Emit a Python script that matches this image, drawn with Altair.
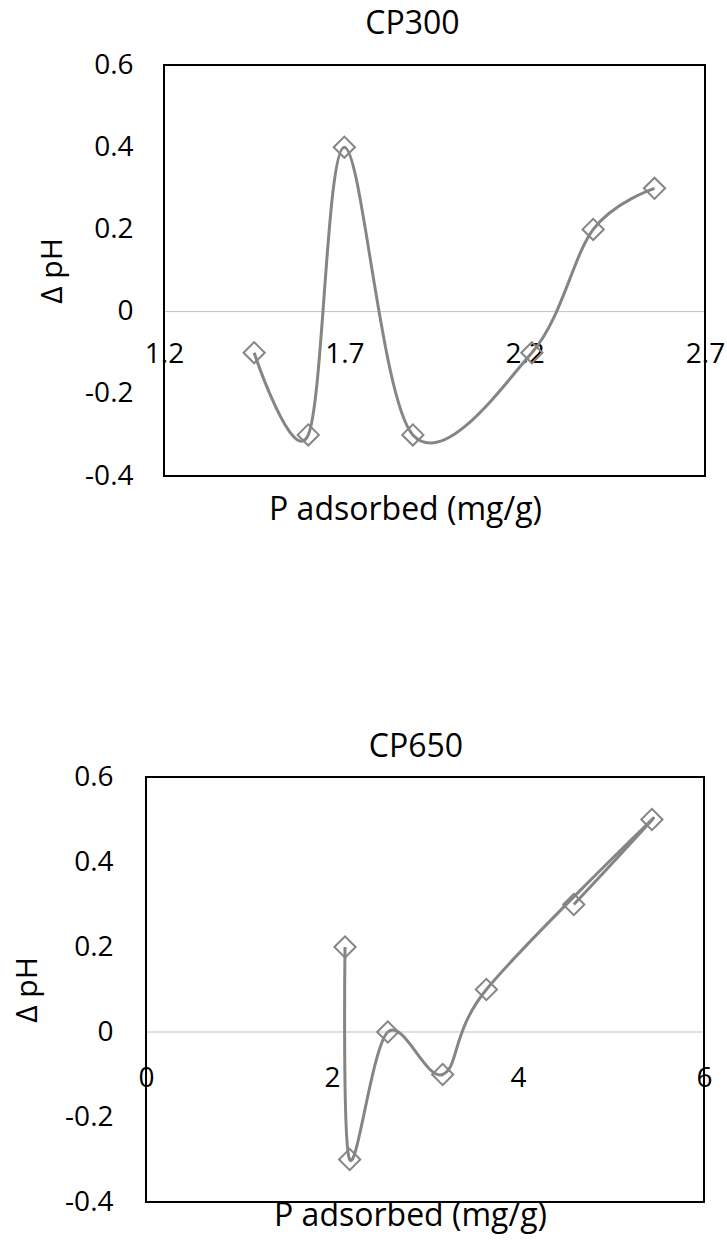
import altair as alt
import pandas as pd

# ---- data ----
top_x = [1.45, 1.60, 1.70, 1.89, 2.22, 2.39, 2.56]
top_y = [-0.1, -0.3, 0.4, -0.3, -0.1, 0.2, 0.3]
bot_x = [2.14, 2.19, 2.60, 3.19, 3.66, 5.44, 4.60]
bot_y = [0.2, -0.3, 0.0, -0.1, 0.1, 0.5, 0.3]

top_xticks = [1.2, 1.7, 2.2, 2.7]
bot_xticks = [0, 2, 4, 6]
y_ticks = [-0.4, -0.2, 0, 0.2, 0.4, 0.6]
y_domain = [-0.4, 0.6]

FONT = "Open Sans"
GRAY = "#858585"
LBL = 28
TTL = 32
YTTL = 30

Y_LABEL_EXPR = "datum.value == 0 ? '0' : (datum.value < 0 ? '-' : '') + format(abs(datum.value), '.1f')"


def panel(xs, ys, name, x_dom, x_ticks, x_fmt, width, height, x_range,
          x_lblpad, x_title_x, x_title_y, y_lblpad, y_title_x,
          title_dx, title_offset):
    df = pd.DataFrame({"i": list(range(len(xs))), "x": xs, "y": ys})
    frame = pd.DataFrame({"x0": [x_dom[0]], "x1": [x_dom[1]],
                          "y0": [y_domain[0]], "y1": [y_domain[1]], "z": [0.0]})

    sx = alt.Scale(domain=x_dom, nice=False, zero=False)
    if x_range is not None:
        sx = alt.Scale(domain=x_dom, nice=False, zero=False, range=x_range)
    sy = alt.Scale(domain=y_domain, nice=False, zero=False)

    zero_px = height * (0 - y_domain[0]) / (y_domain[1] - y_domain[0])

    xaxis = alt.Axis(
        values=x_ticks, labelExpr=f"format(datum.value, '{x_fmt}')",
        domain=False, ticks=False, tickSize=0, grid=False,
        offset=-zero_px, labelPadding=x_lblpad, labelBaseline="alphabetic",
        labelFlush=False, labelOverlap=False, labelFont=FONT,
        labelFontSize=LBL, labelColor="black",
        title="P adsorbed (mg/g)", titleFont=FONT, titleFontSize=TTL,
        titleFontWeight="normal", titleColor="black",
        titleX=x_title_x, titleY=x_title_y, titleAlign="center",
        titleBaseline="alphabetic",
    )
    yaxis = alt.Axis(
        values=y_ticks, labelExpr=Y_LABEL_EXPR,
        domain=False, ticks=False, tickSize=0, grid=False,
        labelPadding=y_lblpad, labelFlush=False, labelOverlap=False,
        labelFont=FONT, labelFontSize=LBL, labelColor="black",
        title="Δ pH", titleFont=FONT, titleFontSize=YTTL,
        titleFontWeight="normal", titleColor="black",
        titleAngle=270, titleX=y_title_x, titleY=height / 2,
        titleAlign="center", titleBaseline="middle",
    )

    box = alt.Chart(frame).mark_rect(fill=None, stroke="black", strokeWidth=2).encode(
        x=alt.X("x0:Q", scale=sx, axis=xaxis), x2="x1:Q",
        y=alt.Y("y0:Q", scale=sy, axis=yaxis), y2="y1:Q",
    )
    zero = alt.Chart(frame).mark_rule(color="#c0c0c0", strokeWidth=1).encode(
        x=alt.X("x0:Q", scale=sx, axis=xaxis), x2="x1:Q",
        y=alt.Y("z:Q", scale=sy, axis=yaxis),
    )
    line = alt.Chart(df).mark_line(interpolate="cardinal", color=GRAY, strokeWidth=3).encode(
        x=alt.X("x:Q", scale=sx, axis=xaxis),
        y=alt.Y("y:Q", scale=sy, axis=yaxis),
        order=alt.Order("i:Q"),
    )
    pts = alt.Chart(df).mark_point(shape="diamond", size=450, filled=False,
                                    color=GRAY, strokeWidth=2, opacity=1).encode(
        x=alt.X("x:Q", scale=sx, axis=xaxis),
        y=alt.Y("y:Q", scale=sy, axis=yaxis),
    )
    return alt.layer(zero, line, pts, box).properties(
        width=width, height=height,
        title=alt.TitleParams(name, font=FONT, fontSize=TTL, fontWeight="normal",
                              color="black", anchor="middle", frame="group",
                              dx=title_dx, baseline="alphabetic", offset=title_offset),
    )


top = panel(top_x, top_y, "CP300", [1.2, 2.7], top_xticks, ".1f",
            559, 411, [18, 559],
            x_lblpad=51, x_title_x=259, x_title_y=208,
            y_lblpad=13, y_title_x=-94, title_dx=-13, title_offset=-15)

bottom = panel(bot_x, bot_y, "CP650", [0, 6], bot_xticks, "d",
               558, 425, None,
               x_lblpad=54, x_title_x=264, x_title_y=193,
               y_lblpad=33, y_title_x=-119, title_dx=-9, title_offset=-26)

chart = alt.vconcat(top, bottom, spacing=205).properties(
    padding={"left": 12, "top": 8, "right": 0, "bottom": 12},
    background="white",
).configure_view(stroke=None)

chart.save("out.html", embed_options={"renderer": "svg", "actions": False})
